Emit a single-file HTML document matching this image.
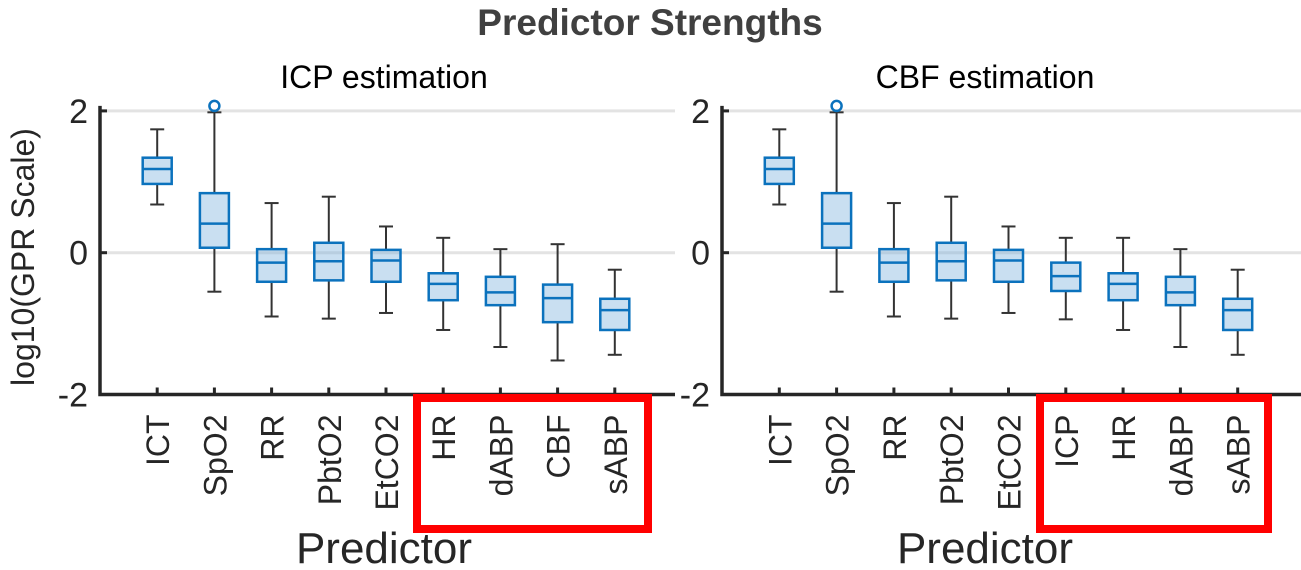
<!DOCTYPE html>
<html><head><meta charset="utf-8"><style>
html,body{margin:0;padding:0;background:#fff;}
svg{display:block;font-family:"Liberation Sans",Arial,sans-serif;}
</style></head><body>
<svg id="chart" width="1301" height="570" viewBox="0 0 1301 570">
<text x="650" y="35" text-anchor="middle" font-size="37" font-weight="bold" fill="#404040">Predictor Strengths</text>
<g id="p1"></g>
<g id="p2"></g>
<text transform="translate(34,257) rotate(-90)" text-anchor="middle" font-size="32" fill="#262626">log10(GPR Scale)</text>
</svg>
<script>
const catsICP = ["ICT","SpO2","RR","PbtO2","EtCO2","HR","dABP","CBF","sABP"];
const catsCBF = ["ICT","SpO2","RR","PbtO2","EtCO2","ICP","HR","dABP","sABP"];
// [lowWhisker, q1, median, q3, highWhisker]
const statsICP = [
 [0.68,0.97,1.18,1.34,1.74],
 [-0.55,0.07,0.41,0.84,1.98],
 [-0.90,-0.41,-0.14,0.05,0.70],
 [-0.93,-0.39,-0.12,0.14,0.79],
 [-0.85,-0.41,-0.11,0.04,0.37],
 [-1.09,-0.67,-0.44,-0.29,0.21],
 [-1.33,-0.74,-0.56,-0.34,0.05],
 [-1.52,-0.98,-0.64,-0.45,0.12],
 [-1.44,-1.09,-0.81,-0.65,-0.24]];
const statsCBF = [
 [0.68,0.97,1.18,1.34,1.74],
 [-0.55,0.07,0.41,0.84,1.98],
 [-0.90,-0.41,-0.14,0.05,0.70],
 [-0.93,-0.39,-0.12,0.14,0.79],
 [-0.85,-0.41,-0.11,0.04,0.37],
 [-0.94,-0.54,-0.33,-0.14,0.21],
 [-1.09,-0.67,-0.44,-0.29,0.21],
 [-1.33,-0.74,-0.56,-0.34,0.05],
 [-1.44,-1.09,-0.81,-0.65,-0.24]];
const outliersICP = [[1,2.07]];
const outliersCBF = [[1,2.07]];
const yTicks = [-2,0,2];

const NS="http://www.w3.org/2000/svg";
function mk(parent,tag,attrs){const e=document.createElementNS(NS,tag);for(const k in attrs)e.setAttribute(k,attrs[k]);parent.appendChild(e);return e;}
function panel(g,cfg){
  const y=v=>252.7-v*70.9;
  const x=i=>cfg.x0+(i+1)*cfg.dx;
  yTicks.forEach(t=>{ if(t!==-2){const gl=mk(g,'line',{x1:cfg.x0+2,x2:cfg.xEnd,y1:y(t),y2:y(t),stroke:'#e3e3e3','stroke-width':3});
    
    }
    const tk=mk(g,'line',{x1:cfg.x0,x2:cfg.x0+7,y1:y(t),y2:y(t),stroke:'#262626','stroke-width':3});
    
    
    const tl=mk(g,'text',{x:cfg.x0-12,y:y(t)+12,'text-anchor':'end','font-size':34,fill:'#262626'});tl.textContent=t;
    
    });
  const ax=mk(g,'path',{d:`M${cfg.x0},${y(2)-5} V${y(-2)} H${cfg.xEnd}`,fill:'none',stroke:'#262626','stroke-width':3.5});
  
  
  cfg.stats.forEach((s,i)=>{
    const cx=x(i),hw=cfg.bw/2;
    const tk=mk(g,'line',{x1:cx,x2:cx,y1:y(-2),y2:y(-2)-7,stroke:'#262626','stroke-width':3});
    
    
    const b=mk(g,'g',{});
    
    
    mk(b,'line',{x1:cx,x2:cx,y1:y(s[4]),y2:y(s[3]),stroke:'#333','stroke-width':2});
    mk(b,'line',{x1:cx,x2:cx,y1:y(s[1]),y2:y(s[0]),stroke:'#333','stroke-width':2});
    mk(b,'line',{x1:cx-7,x2:cx+7,y1:y(s[4]),y2:y(s[4]),stroke:'#333','stroke-width':2});
    mk(b,'line',{x1:cx-7,x2:cx+7,y1:y(s[0]),y2:y(s[0]),stroke:'#333','stroke-width':2});
    mk(b,'rect',{x:cx-hw,y:y(s[3]),width:cfg.bw,height:y(s[1])-y(s[3]),fill:'rgba(120,175,220,0.4)',stroke:'#0b72bd','stroke-width':2.5});
    mk(b,'line',{x1:cx-hw,x2:cx+hw,y1:y(s[2]),y2:y(s[2]),stroke:'#0b72bd','stroke-width':2.5});
    const lb=mk(g,'text',{transform:`translate(${cx+12},${y(-2)+20}) rotate(-90)`,'text-anchor':'end','font-size':32,fill:'#262626'});
    lb.textContent=cfg.cats[i];
    
    
  });
  cfg.outliers.forEach(o=>{const c=mk(g,'circle',{cx:x(o[0]),cy:y(o[1]),r:5,fill:'none',stroke:'#0b72bd','stroke-width':2.5});
    
    });
  const st=mk(g,'text',{x:cfg.titleX,y:88,'text-anchor':'middle','font-size':32,fill:'#000'});st.textContent=cfg.title;
  
  
  const xl=mk(g,'text',{x:cfg.titleX,y:563,'text-anchor':'middle','font-size':44,fill:'#262626'});xl.textContent='Predictor';
  
  
  const rb=mk(g,'rect',{x:cfg.red[0],y:398,width:cfg.red[1]-cfg.red[0],height:131,fill:'none',stroke:'#ff0000','stroke-width':8});
  
  
}
panel(document.getElementById('p1'),{x0:100,dx:57.2,xEnd:675,bw:29,stats:statsICP,cats:catsICP,outliers:outliersICP,title:'ICP estimation',titleX:384,red:[417,648]});
panel(document.getElementById('p2'),{x0:722,dx:57.3,xEnd:1301,bw:29,stats:statsCBF,cats:catsCBF,outliers:outliersCBF,title:'CBF estimation',titleX:985,red:[1040,1268]});
</script>
</body></html>
